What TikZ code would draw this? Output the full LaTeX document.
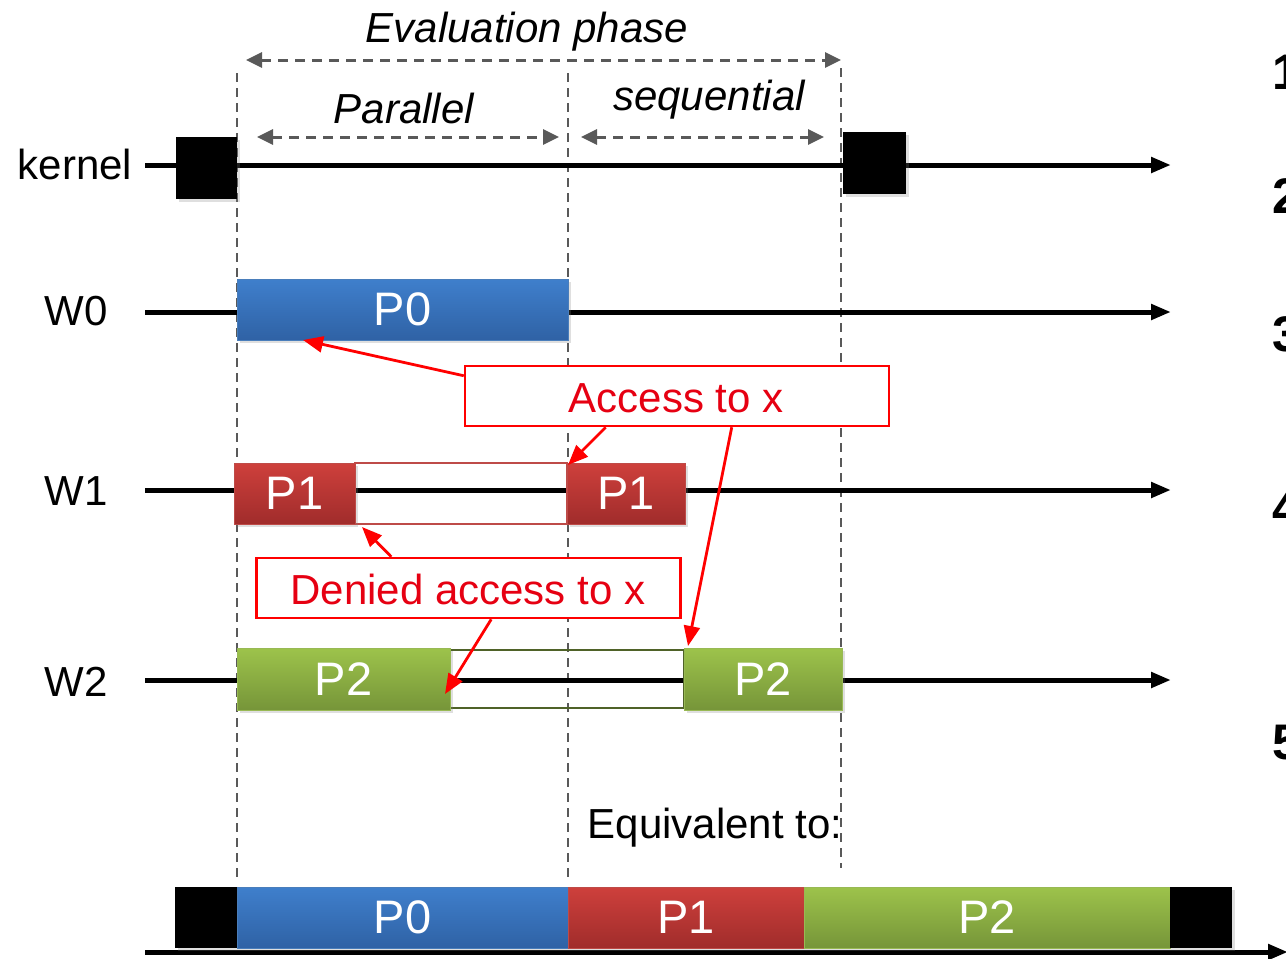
\documentclass[tikz,border=0pt]{standalone}
\usepackage{fontspec}
\setmainfont{Liberation Sans}
\usetikzlibrary{arrows.meta,shadows,calc}
\definecolor{dgray}{HTML}{595959}
\definecolor{btop}{HTML}{3F7FCC}
\definecolor{bbot}{HTML}{2F62A5}
\definecolor{bbord}{HTML}{4A7EBB}
\definecolor{rtop}{HTML}{CE403C}
\definecolor{rbot}{HTML}{A02C2B}
\definecolor{rbord}{HTML}{BE4B48}
\definecolor{gtop}{HTML}{9DC34B}
\definecolor{gbot}{HTML}{769539}
\definecolor{gbord}{HTML}{98B954}
\definecolor{gout}{HTML}{4F6228}
\definecolor{callred}{HTML}{FF0000}
\definecolor{textred}{HTML}{E60012}
\begin{document}
\begin{tikzpicture}[x=1pt,y=-1pt,
  lbl/.style={font=\fontsize{42}{50}\selectfont, inner sep=0pt, anchor=base},
  ilbl/.style={lbl, font=\fontsize{42}{50}\selectfont\itshape},
  num/.style={font=\fontsize{50}{50}\selectfont\bfseries, inner sep=0pt, anchor=west},
  shad/.style={drop shadow={opacity=0.25, shadow xshift=3pt, shadow yshift=-3pt}},
  blk/.style={fill=black, draw=none, inner sep=0pt, outer sep=0pt, shad},
  proc/.style={inner sep=0pt, outer sep=0pt, text=white, line width=1pt,
    font=\fontsize{47}{50}\selectfont, shad},
  pblue/.style={proc, top color=btop, bottom color=bbot, draw=bbord},
  pred/.style={proc, top color=rtop, bottom color=rbot, draw=rbord},
  pgreen/.style={proc, top color=gtop, bottom color=gbot, draw=gbord},
  hollow/.style={draw, line width=1.2pt, inner sep=0pt, outer sep=0pt},
  axis/.style={line width=5pt, -{Triangle[length=20pt,width=15pt]}},
  vdash/.style={dgray, line width=2pt, dash pattern=on 9pt off 6pt},
  harr/.style={dgray, line width=3pt, dash pattern=on 10pt off 7pt,
    {Triangle[length=16pt,width=15pt]}-{Triangle[length=16pt,width=15pt]}},
  callout/.style={draw=callred, line width=2.5pt, fill=white, text=textred,
    inner sep=0pt, font=\fontsize{42}{50}\selectfont},
  rarr/.style={callred, line width=2.8pt, -{Triangle[length=20pt,width=16pt]}}
]
\useasboundingbox (0,0) rectangle (1286,959);

% vertical dashed guides
\coordinate (v1t) at (237,73);  \coordinate (v1b) at (237,878);
\coordinate (v2t) at (568,73);  \coordinate (v2b) at (568,878);
\coordinate (v3t) at (841,68);  \coordinate (v3b) at (841,868);
\draw[vdash] (v1t) -- (v1b);
\draw[vdash] (v2t) -- (v2b);
\draw[vdash] (v3t) -- (v3b);

% phase arrows and labels
\coordinate (e1) at (246,60);  \coordinate (e2) at (841,60);
\coordinate (pa1) at (257,137); \coordinate (pa2) at (559,137);
\coordinate (sq1) at (581,137); \coordinate (sq2) at (824,137);
\draw[harr] (e1) -- (e2);
\draw[harr] (pa1) -- (pa2);
\draw[harr] (sq1) -- (sq2);
\node[ilbl] (evl) at (527,42) {Evaluation phase};
\node[ilbl] (pal) at (404,123) {Parallel};
\node[ilbl] (sql) at (709,110) {sequential};

% timeline labels
\node[lbl] (kl) at (75,179) {kernel};
\node[lbl] (w0l) at (76,325) {W0};
\node[lbl] (w1l) at (76,505) {W1};
\node[lbl] (w2l) at (76,696) {W2};

% timelines
\coordinate (ks) at (145,165); \coordinate (ke) at (1171,165);
\coordinate (w0s) at (145,312); \coordinate (w0e) at (1171,312);
\coordinate (w1s) at (145,490); \coordinate (w1e) at (1171,490);
\coordinate (w2s) at (145,680); \coordinate (w2e) at (1171,680);
\coordinate (bs) at (145,952); \coordinate (be) at (1288,952);
\draw[axis] (ks) -- (ke);
\draw[axis] (w0s) -- (w0e);
\draw[axis] (w1s) -- (w1e);
\draw[axis] (w2s) -- (w2e);
\draw[axis] (bs) -- (be);

% kernel boxes
\node[blk, minimum width=61pt, minimum height=62pt] (kb1) at (206.5,168) {};
\node[blk, minimum width=63pt, minimum height=62pt] (kb2) at (874.5,163) {};

% hollow waiting rectangles
\node[hollow, draw=rbord, minimum width=212pt, minimum height=61pt] (p1w) at (461,493.5) {};
\node[hollow, draw=gout, minimum width=234pt, minimum height=58pt] (p2w) at (567,679) {};

% process boxes
\node[pblue, minimum width=331pt, minimum height=61pt] (p0) at (402.5,309.5) {P0};
\node[pred, minimum width=121pt, minimum height=61pt] (p1a) at (294.5,493.5) {P1};
\node[pred, minimum width=118pt, minimum height=61pt] (p1b) at (626,493.5) {P1};
\node[pgreen, minimum width=213pt, minimum height=62pt] (p2a) at (343.5,679) {P2};
\node[pgreen, minimum width=158pt, minimum height=62pt] (p2b) at (763,679) {P2};

% callouts
\node[callout, minimum width=424pt, minimum height=60pt] (acc) at (677,396) {};
\node[lbl, text=textred] (acct) at (676,412) {Access to x};
\node[callout, minimum width=424pt, minimum height=60pt] (den) at (468.5,588) {};
\node[lbl, text=textred] (dent) at (468,604) {Denied access to x};

\draw[rarr] ($(acc.north west)+(0,11)$) -- ($(p0.south west)+(66,0)$);
\draw[rarr] ($(acc.south west)+(142,0)$) -- ($(p1b.north west)+(1,2)$);
\draw[rarr] ($(acc.south west)+(268,0)$) -- ($(p2b.north west)+(4,-2)$);
\draw[rarr] ($(den.north west)+(136,0)$) -- ($(p1a.south east)+(7,3)$);
\draw[rarr] ($(den.south west)+(236,0)$) -- ($(p2a.south east)+(-5,-16)$);

% equivalent sequence
\node[lbl] (eq) at (715,838) {Equivalent to:};
\node[blk, minimum width=62pt, minimum height=61pt] (bk1) at (206,917.5) {};
\node[pblue, minimum width=331pt, minimum height=61pt] (bp0) at (402.5,917.5) {P0};
\node[pred, minimum width=236pt, minimum height=61pt] (bp1) at (686,917.5) {P1};
\node[pgreen, minimum width=366pt, minimum height=61pt] (bp2) at (987,917.5) {P2};
\node[blk, minimum width=62pt, minimum height=61pt] (bk2) at (1201,917.5) {};

% cropped step numbers at the right edge (cut off as in the reference)
\node[num] (n1) at (1272,72) {1};
\node[num] (n2) at (1272,196) {2};
\node[num] (n3) at (1272,334) {3};
\node[num] (n4) at (1272,508) {4};
\node[num] (n5) at (1272,743) {5};
\end{tikzpicture}
\end{document}
